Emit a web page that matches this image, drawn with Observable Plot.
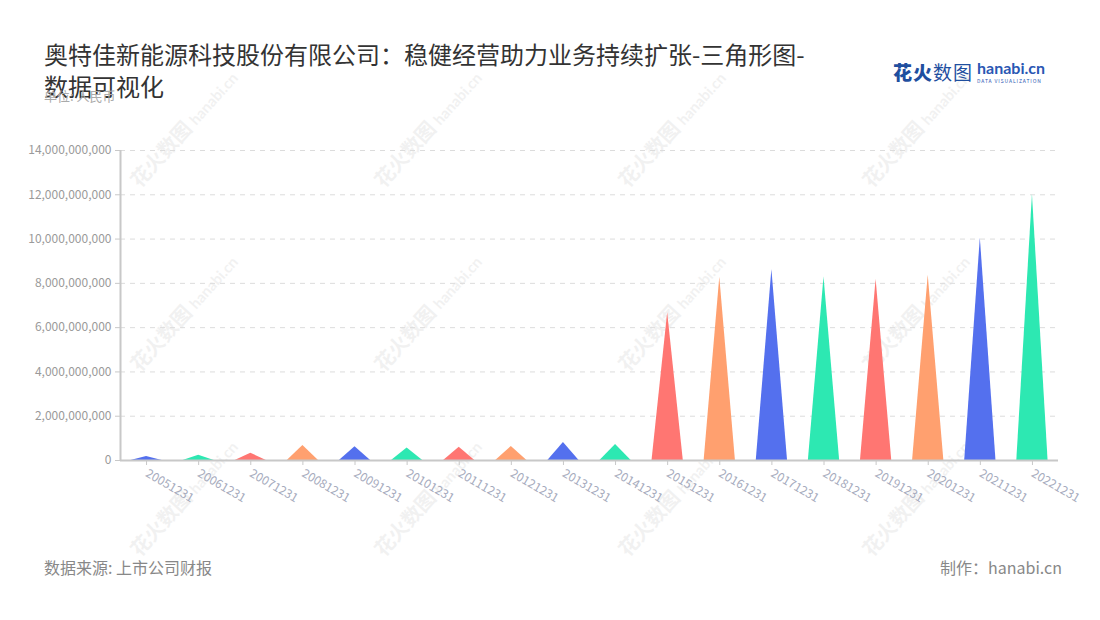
<!DOCTYPE html>
<html>
<head>
<meta charset="utf-8">
<script src="https://cdn.jsdelivr.net/npm/d3@7"></script>
<script src="https://cdn.jsdelivr.net/npm/@observablehq/plot@0.6"></script>
<style>
  html, body { margin: 0; padding: 0; background: #fff; }
  body { font-family: "Noto Sans CJK SC", "Noto Sans", sans-serif; }
  #wrap { position: relative; width: 1100px; height: 620px; overflow: hidden; }
  #chart { position: absolute; left: 0; top: 0; z-index: 1; }
  .wm { position: absolute; z-index: 0; white-space: nowrap; color: #000; opacity: 0.05;
        transform: translate(-50%, -50%) rotate(-48deg); font-size: 20px; font-weight: 700; }
  .wm small { font-size: 15px; font-family: "Lato", sans-serif; }
  #title { position: absolute; left: 44px; top: 38px; font-size: 24px; line-height: 32px; color: #333; z-index: 2; }
  #unit { position: absolute; left: 44px; top: 86px; font-size: 13px; color: #aaa; z-index: 3; }
  #source { position: absolute; left: 44px; top: 555px; font-size: 16px; color: #888; z-index: 2; }
  #maker { position: absolute; right: 38px; top: 555px; font-size: 16px; color: #888; z-index: 2; }
  #logo { position: absolute; left: 893px; top: 58px; z-index: 2; display: flex; align-items: center; }
  #logo .cn { font-size: 19px; color: #1f4f9f; letter-spacing: 1px; }
  #logo .cn b { font-weight: 900; }
  #logo .en { margin-left: 4px; display: flex; flex-direction: column; line-height: 1; }
  #logo .en span:first-child { font-family: "Lato", sans-serif; font-weight: 700; font-size: 16px; color: #2a57b3; }
  #logo .en span:last-child { font-size: 5px; letter-spacing: 0.9px; color: #2a57b3; margin-top: 2px; }
</style>
</head>
<body>
<div id="wrap">
  <div id="title">奥特佳新能源科技股份有限公司：稳健经营助力业务持续扩张-三角形图-<br>数据可视化</div>
  <div id="unit">单位: 人民币</div>
  <div id="logo"><span class="cn"><b>花火</b>数图</span><span class="en"><span>hanabi.cn</span><span>DATA VISUALIZATION</span></span></div>
  <div id="source">数据来源: 上市公司财报</div>
  <div id="maker">制作：hanabi.cn</div>
</div>
<script>
// ---- data ----
const dates = ["20051231","20061231","20071231","20081231","20091231","20101231","20111231","20121231","20131231",
               "20141231","20151231","20161231","20171231","20181231","20191231","20201231","20211231","20221231"];
const values = [0.18e9, 0.24e9, 0.33e9, 0.68e9, 0.62e9, 0.57e9, 0.60e9, 0.63e9, 0.81e9,
                0.72e9, 6.67e9, 8.28e9, 8.63e9, 8.29e9, 8.18e9, 8.37e9, 10.05e9, 12.0e9];
const palette = ["#5470ee", "#2de8b2", "#ff7672", "#ffa06f"];
const yTicks = [0, 2e9, 4e9, 6e9, 8e9, 10e9, 12e9, 14e9];

// triangle outline table built from the values (base half-width in band units)
const half = 0.3;
const tri = dates.flatMap((d, i) => [
  {date: d, x: i - half, y: 0},
  {date: d, x: i, y: values[i]},
  {date: d, x: i + half, y: 0}
]);

// watermarks (decoration)
const wrap = document.getElementById("wrap");
for (const cy of [128, 312, 497]) {
  for (const cx of [183, 427, 671, 915]) {
    const w = document.createElement("div");
    w.className = "wm";
    w.style.left = cx + "px";
    w.style.top = cy + "px";
    w.innerHTML = "花火数图 <small>hanabi.cn</small>";
    wrap.appendChild(w);
  }
}

const chart = Plot.plot({
  width: 1100,
  height: 620,
  marginLeft: 120,
  marginRight: 42,
  marginTop: 150,
  marginBottom: 160,
  style: {background: "transparent", fontFamily: "'Noto Sans CJK SC', 'Noto Sans', sans-serif", fontSize: "12px"},
  x: {domain: [-0.5, dates.length - 0.5], label: null},
  y: {domain: [0, 14e9], label: null},
  color: {domain: dates, range: dates.map((d, i) => palette[i % palette.length])},
  marks: [
    Plot.gridY(yTicks.slice(1), {stroke: "#dcdcdc", strokeOpacity: 1, strokeDasharray: "5,5"}),
    Plot.axisY(yTicks, {tickSize: 5, tickPadding: 4, stroke: "#c8c8c8", fill: "#9a9a9a", fontSize: 12,
                        tickFormat: d3.format(","), label: null}),
    Plot.ruleX([-0.5], {stroke: "#c8c8c8", strokeWidth: 2}),
    Plot.areaY(tri, {x: "x", y1: 0, y2: "y", z: "date", fill: "date"}),
    Plot.ruleY([0], {stroke: "#c8c8c8", strokeWidth: 2}),
    Plot.axisX(d3.range(dates.length), {tickSize: 5, tickPadding: 7, tickRotate: 30, stroke: "#c8c8c8",
                        fill: "#a6abbd", fontSize: 12, tickFormat: i => dates[i], label: null})
  ]
});
chart.id = "chart";
wrap.appendChild(chart);
</script>
</body>
</html>
